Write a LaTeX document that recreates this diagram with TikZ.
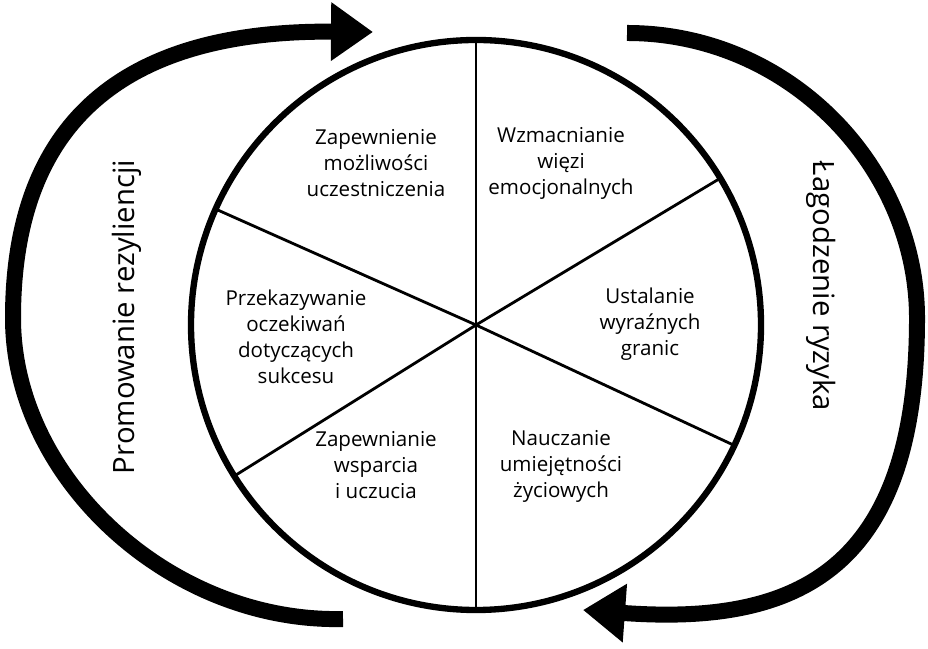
\documentclass[tikz,border=0pt]{standalone}
\usepackage{fontspec}
\setmainfont{Open Sans}
\usetikzlibrary{arrows.meta,positioning}

\begin{document}
\begin{tikzpicture}[x=0.02cm,y=0.02cm,
  sector/.style={align=center,inner sep=0pt,font=\fontsize{11.7}{14.8}\selectfont},
  sidelabel/.style={inner sep=0pt,font=\fontsize{16.7}{20}\selectfont},
  bigarrow/.style={line width=0.32cm,-{Triangle[length=0.84cm,width=1.12cm]}},
  spoke/.style={line width=1.6pt}]
\useasboundingbox (0,0) rectangle (928,648);
\coordinate (O) at (476,323);
\draw[line width=3.6pt] (O) circle (285);
\foreach \a in {90,31,-25,-90,212,156}
  \draw[spoke] (O) -- ++(\a:285);
\node[sector] (zap) at (376,485) {Zapewnienie\\możliwości\\uczestniczenia};
\node[sector] (wzm) at (561,485) {Wzmacnianie\\więzi\\emocjonalnych};
\node[sector] (prz) at (296,311) {Przekazywanie\\oczekiwań\\dotyczących\\sukcesu};
\node[sector] (ust) at (650,324) {Ustalanie\\wyraźnych\\granic};
\node[sector] (zpw) at (376,183) {Zapewnianie\\wsparcia\\i uczucia};
\node[sector] (nau) at (561,182) {Nauczanie\\umiejętności\\życiowych};
\node[sidelabel,rotate=90] (prom) at (127,331) {Promowanie rezyliencji};
\node[sidelabel,rotate=-90] (lag) at (821,362) {Łagodzenie ryzyka};
\draw[bigarrow] (343,29) .. controls (170,25) and (13,170) .. (13,330)
  .. controls (13,540) and (140,618) .. (373,616);
\draw[bigarrow] (627,615) .. controls (790,615) and (917,480) .. (917,330)
  .. controls (917,80) and (800,22) .. (583,38);
\end{tikzpicture}
\end{document}
